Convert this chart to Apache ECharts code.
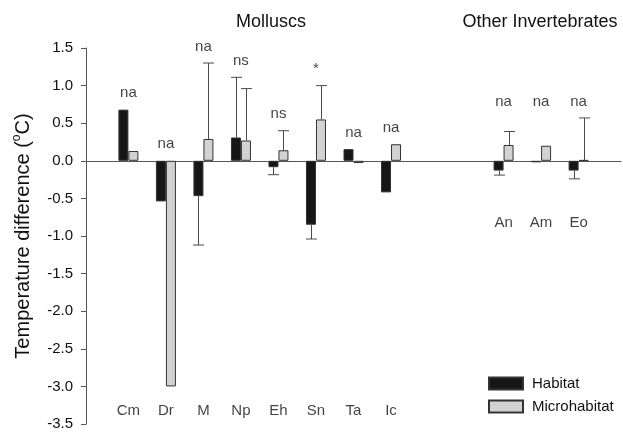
<!DOCTYPE html>
<html>
<head>
<meta charset="utf-8">
<title>Temperature difference by taxon</title>
<script src="https://cdn.jsdelivr.net/npm/echarts@6/dist/echarts.min.js"></script>
<style>
  html, body { margin: 0; padding: 0; background: #fff; }
  #chart { width: 623px; height: 436px; }
</style>
</head>
<body>
<div id="chart"></div>
<script>
// Taxon codes; empty strings keep the space between the two groups.
const categories = ['Cm', 'Dr', 'M', 'Np', 'Eh', 'Sn', 'Ta', 'Ic', '', '', 'An', 'Am', 'Eo'];
const groupOfCategory = [0, 0, 0, 0, 0, 0, 0, 0, null, null, 1, 1, 1];
const groupNames = ['Molluscs', 'Other Invertebrates'];

// Mean temperature differences (°C)
const habitat      = [0.68, -0.54, -0.47, 0.31, -0.085, -0.85, 0.155, -0.42, null, null, -0.13, -0.02, -0.13];
const microhabitat = [0.13, -3.00, 0.29, 0.27, 0.14, 0.55, -0.03, 0.22, null, null, 0.21, 0.20, 0.01];

// Error magnitudes, drawn away from zero (0 = no error bar)
const habitatErr      = [0, 0, 0.65, 0.80, 0.10, 0.19, 0, 0, null, null, 0.06, 0, 0.11];
const microhabitatErr = [0, 0, 1.01, 0.69, 0.26, 0.45, 0, 0, null, null, 0.18, 0, 0.56];

// Test outcome per taxon
const significance = ['na', 'na', 'na', 'ns', 'ns', '*', 'na', 'na', '', '', 'na', 'na', 'na'];

const yTicks = { min: -3.5, max: 1.5, step: 0.5 };

// ---- layout ----
const FONT = '"Liberation Sans", Arial, Helvetica, sans-serif';
const BAR_W = 10;
const NAME_ROW = [-3.32, -0.82];       // value level of the taxon-name row for each group

const present = categories.map((c, i) => c !== '');

function barData(vals) {
  const out = [];
  vals.forEach((v, i) => { if (present[i] && v !== null) out.push([i, v]); });
  return out;
}
function errData(vals, errs) {
  const out = [];
  vals.forEach((v, i) => {
    if (present[i] && errs[i]) {
      const end = v >= 0 ? v + errs[i] : v - errs[i];
      out.push([i, v, end]);
    }
  });
  return out;
}

// highest point reached by each taxon (bars and error bars, never below zero)
const tops = categories.map((c, i) => {
  if (!present[i]) return null;
  const cand = [0];
  [[habitat, habitatErr], [microhabitat, microhabitatErr]].forEach(([v, e]) => {
    const val = v[i];
    cand.push(val >= 0 ? val + (e[i] || 0) : 0);
  });
  return Math.max.apply(null, cand);
});
// the invertebrate labels share one row above the group's tallest point
const groupTop = {};
tops.forEach((t, i) => {
  if (groupOfCategory[i] === 1) groupTop[1] = Math.max(groupTop[1] || 0, t);
});
const sigData = [];
categories.forEach((c, i) => {
  if (!present[i]) return;
  const y = groupOfCategory[i] === 1 ? groupTop[1] : tops[i];
  sigData.push({ value: [i, y], name: significance[i] });
});
const nameData = [];
categories.forEach((c, i) => {
  if (!present[i]) return;
  nameData.push({ value: [i, NAME_ROW[groupOfCategory[i]]], name: c });
});

function errorSeries(name, data, offset) {
  return {
    name: name + ' error',
    type: 'custom',
    z: 3,
    silent: true,
    data: data,
    renderItem: function (params, api) {
      const p0 = api.coord([api.value(0), api.value(1)]);
      const p1 = api.coord([api.value(0), api.value(2)]);
      const x = Math.round(p0[0] + offset) + 0.5;
      const style = { stroke: '#4a4a4a', lineWidth: 1 };
      return {
        type: 'group',
        children: [
          { type: 'line', shape: { x1: x, y1: p0[1], x2: x, y2: p1[1] }, style: style },
          { type: 'line', shape: { x1: x - 5.5, y1: p1[1], x2: x + 5.5, y2: p1[1] }, style: style }
        ]
      };
    }
  };
}

const chart = echarts.init(document.getElementById('chart'), null, { renderer: 'canvas' });
chart.setOption({
  animation: false,
  backgroundColor: '#ffffff',
  textStyle: { fontFamily: FONT },
  title: [
    { text: groupNames[0], left: 266, top: 8, textAlign: 'center',
      textStyle: { fontFamily: FONT, fontSize: 18, fontWeight: 'normal', color: '#111' } },
    { text: groupNames[1], left: 535, top: 8, textAlign: 'center',
      textStyle: { fontFamily: FONT, fontSize: 18, fontWeight: 'normal', color: '#111' } }
  ],
  legend: {
    orient: 'vertical',
    left: 488,
    top: 376,
    icon: 'rect',
    itemWidth: 34,
    itemHeight: 12,
    itemGap: 8,
    padding: 0,
    data: ['Habitat', 'Microhabitat'],
    textStyle: { fontFamily: FONT, fontSize: 15, color: '#111', padding: [0, 0, 0, 4] }
  },
  grid: { left: 86, top: 48, right: 2, bottom: 12, containLabel: false },
  xAxis: {
    type: 'value',
    min: -1.13,
    max: 13.13,
    axisLine: { show: true, onZero: true, lineStyle: { color: '#555', width: 1 } },
    axisTick: { show: false },
    axisLabel: { show: false },
    splitLine: { show: false }
  },
  yAxis: {
    type: 'value',
    min: yTicks.min,
    max: yTicks.max,
    interval: yTicks.step,
    name: '{n|Temperature difference (}{s|o}{n|C)}',
    nameLocation: 'middle',
    nameRotate: 90,
    nameGap: 51,
    nameTextStyle: {
      rich: {
        n: { fontFamily: FONT, fontSize: 20, color: '#111', lineHeight: 24 },
        s: { fontFamily: FONT, fontSize: 12, color: '#111', lineHeight: 24, verticalAlign: 'top', padding: [0, 0, 10, 0] }
      }
    },
    axisLine: { show: true, onZero: false, lineStyle: { color: '#555', width: 1 } },
    axisTick: { show: true, inside: false, length: 5, lineStyle: { color: '#555' } },
    axisLabel: {
      margin: 13,
      fontFamily: FONT,
      fontSize: 15,
      color: '#111',
      formatter: v => v.toFixed(1)
    },
    splitLine: { show: false }
  },
  series: [
    {
      name: 'Habitat',
      type: 'bar',
      barWidth: BAR_W,
      barGap: '0%',
      z: 2,
      data: barData(habitat),
      itemStyle: { color: '#161616', borderColor: '#333', borderWidth: 1 }
    },
    {
      name: 'Microhabitat',
      type: 'bar',
      barWidth: BAR_W,
      barGap: '0%',
      z: 2,
      data: barData(microhabitat),
      itemStyle: { color: '#d2d2d2', borderColor: '#333', borderWidth: 1 }
    },
    errorSeries('Habitat', errData(habitat, habitatErr), -BAR_W / 2),
    errorSeries('Microhabitat', errData(microhabitat, microhabitatErr), BAR_W / 2),
    {
      name: 'significance',
      type: 'scatter',
      symbolSize: 0,
      silent: true,
      data: sigData,
      label: {
        show: true,
        position: 'top',
        distance: 9,
        formatter: p => p.name,
        fontFamily: FONT,
        fontSize: 15,
        color: '#111'
      }
    },
    {
      name: 'taxa',
      type: 'scatter',
      symbolSize: 0,
      silent: true,
      data: nameData,
      label: {
        show: true,
        position: 'inside',
        formatter: p => p.name,
        fontFamily: FONT,
        fontSize: 15,
        color: '#111'
      }
    }
  ]
});
</script>
</body>
</html>
